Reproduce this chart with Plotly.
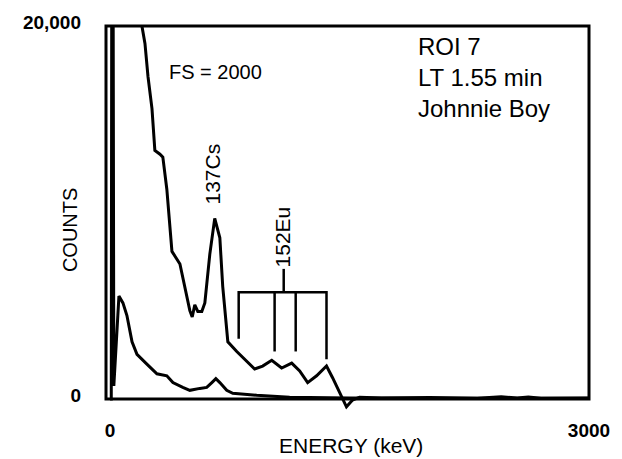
import plotly.graph_objects as go

# ---- data (energy in keV, counts as displayed on the 0-20,000 scale) ----
low_energy = [0, 8, 12, 18, 24, 56, 81, 106, 138, 169, 231, 294, 356, 394, 456, 500,
              563, 606, 638, 663, 688, 731, 769, 831, 919, 1125, 1500, 2000, 2500, 3000]
low_counts = [0, 0, 30000, 30000, 700, 5520, 5156, 4479, 3073, 2396, 1875, 1354, 1250,
              885, 625, 469, 573, 625, 885, 1094, 885, 469, 313, 260, 208, 104, 60, 50, 40, 40]

fs_energy = [170, 200, 219, 238, 263, 281, 313, 331, 356, 375, 388, 438, 469, 500, 515,
             531, 550, 575, 594, 625, 656, 688, 706, 738, 794, 856, 906, 956, 1013, 1075,
             1138, 1188, 1238, 1294, 1356, 1394, 1438, 1481, 1519, 1563, 1700, 2000, 2300,
             2450, 2550, 2620, 2700, 3000]
fs_counts = [24000, 20000, 19063, 17292, 15573, 13333, 13125, 12969, 11250, 9479, 7917,
             7240, 6042, 4740, 4400, 5052, 4700, 4700, 5156, 7760, 9688, 8646, 6042, 3073,
             2552, 2031, 1615, 1771, 2083, 1667, 1927, 1510, 885, 1250, 1771, 1146, 313,
             -417, -52, 104, 60, 80, 50, 120, 60, 110, 40, 60]

eu_leg_energy = [806, 1031, 1163, 1356]
eu_leg_bottom = [3229, 2552, 2552, 2135]
eu_bar_counts = 5729
eu_stem_energy = 1088
eu_stem_top = 6979

x_ticks = [0, 3000]
x_ticktext = ["0", "3000"]
y_ticks = [0, 20000]
y_ticktext = ["0", "20,000"]

x_range = [-25, 3000]
y_range = [-800, 20000]

FONT = "Liberation Sans, Arial, Helvetica, sans-serif"

fig = go.Figure()

fig.add_trace(go.Scatter(x=low_energy, y=low_counts, mode="lines",
                         line=dict(color="black", width=3), showlegend=False))
fig.add_trace(go.Scatter(x=fs_energy, y=fs_counts, mode="lines",
                         line=dict(color="black", width=3), showlegend=False))

# 152Eu bracket
bx, by = [], []
bx += [eu_leg_energy[0], eu_leg_energy[0], eu_leg_energy[-1], eu_leg_energy[-1], None]
by += [eu_leg_bottom[0], eu_bar_counts, eu_bar_counts, eu_leg_bottom[-1], None]
for e, b in zip(eu_leg_energy[1:-1], eu_leg_bottom[1:-1]):
    bx += [e, e, None]
    by += [eu_bar_counts, b, None]
bx += [eu_stem_energy, eu_stem_energy]
by += [eu_bar_counts, eu_stem_top]
fig.add_trace(go.Scatter(x=bx, y=by, mode="lines", line=dict(color="black", width=2.5),
                         showlegend=False))

# frame (0..20000 box)
y0_paper = (0 - y_range[0]) / (y_range[1] - y_range[0])
fig.add_shape(type="rect", xref="paper", yref="paper", x0=0, x1=1, y0=y0_paper, y1=1,
              line=dict(color="black", width=3))

ann_font = dict(family=FONT, size=20, color="black")
fig.add_annotation(x=662, y=17552, text="FS = 2000", showarrow=False, font=ann_font,
                   xanchor="center", yanchor="middle")
fig.add_annotation(x=644, y=12083, text="137Cs", showarrow=False, textangle=-90,
                   font=dict(family=FONT, size=21, color="black"),
                   xanchor="center", yanchor="middle")
fig.add_annotation(x=1081, y=8698, text="152Eu", showarrow=False, textangle=-90,
                   font=dict(family=FONT, size=21, color="black"),
                   xanchor="center", yanchor="middle")
fig.add_annotation(x=1919, y=19750, text="ROI 7<br>LT 1.55 min<br>Johnnie Boy",
                   showarrow=False, xanchor="left", yanchor="top", align="left",
                   font=dict(family=FONT, size=24, color="black"))
fig.add_annotation(x=1512, xref="x", y=-0.08, yref="paper", text="ENERGY (keV)",
                   showarrow=False, xanchor="center", yanchor="middle",
                   font=dict(family=FONT, size=21, color="black"))
fig.add_annotation(x=-0.0744, xref="paper", y=9062, yref="y", text="COUNTS",
                   showarrow=False, textangle=-90, xanchor="center", yanchor="middle",
                   font=dict(family=FONT, size=20, color="black"))

fig.update_xaxes(range=x_range, tickvals=x_ticks, ticktext=x_ticktext, showgrid=False,
                 zeroline=False, showline=False, ticks="", ticklabelstandoff=3,
                 tickfont=dict(family=FONT, size=19, color="black", weight="bold"))
fig.update_yaxes(range=y_range, tickvals=y_ticks, ticktext=y_ticktext, showgrid=False,
                 zeroline=False, showline=False, ticks="", ticklabelstandoff=24,
                 ticklabelshift=-4,
                 tickfont=dict(family=FONT, size=19, color="black", weight="bold"))

fig.update_layout(width=622, height=459, margin=dict(l=106, r=32, t=15, b=45),
                  plot_bgcolor="white", paper_bgcolor="white")

fig.write_html("out.html")
